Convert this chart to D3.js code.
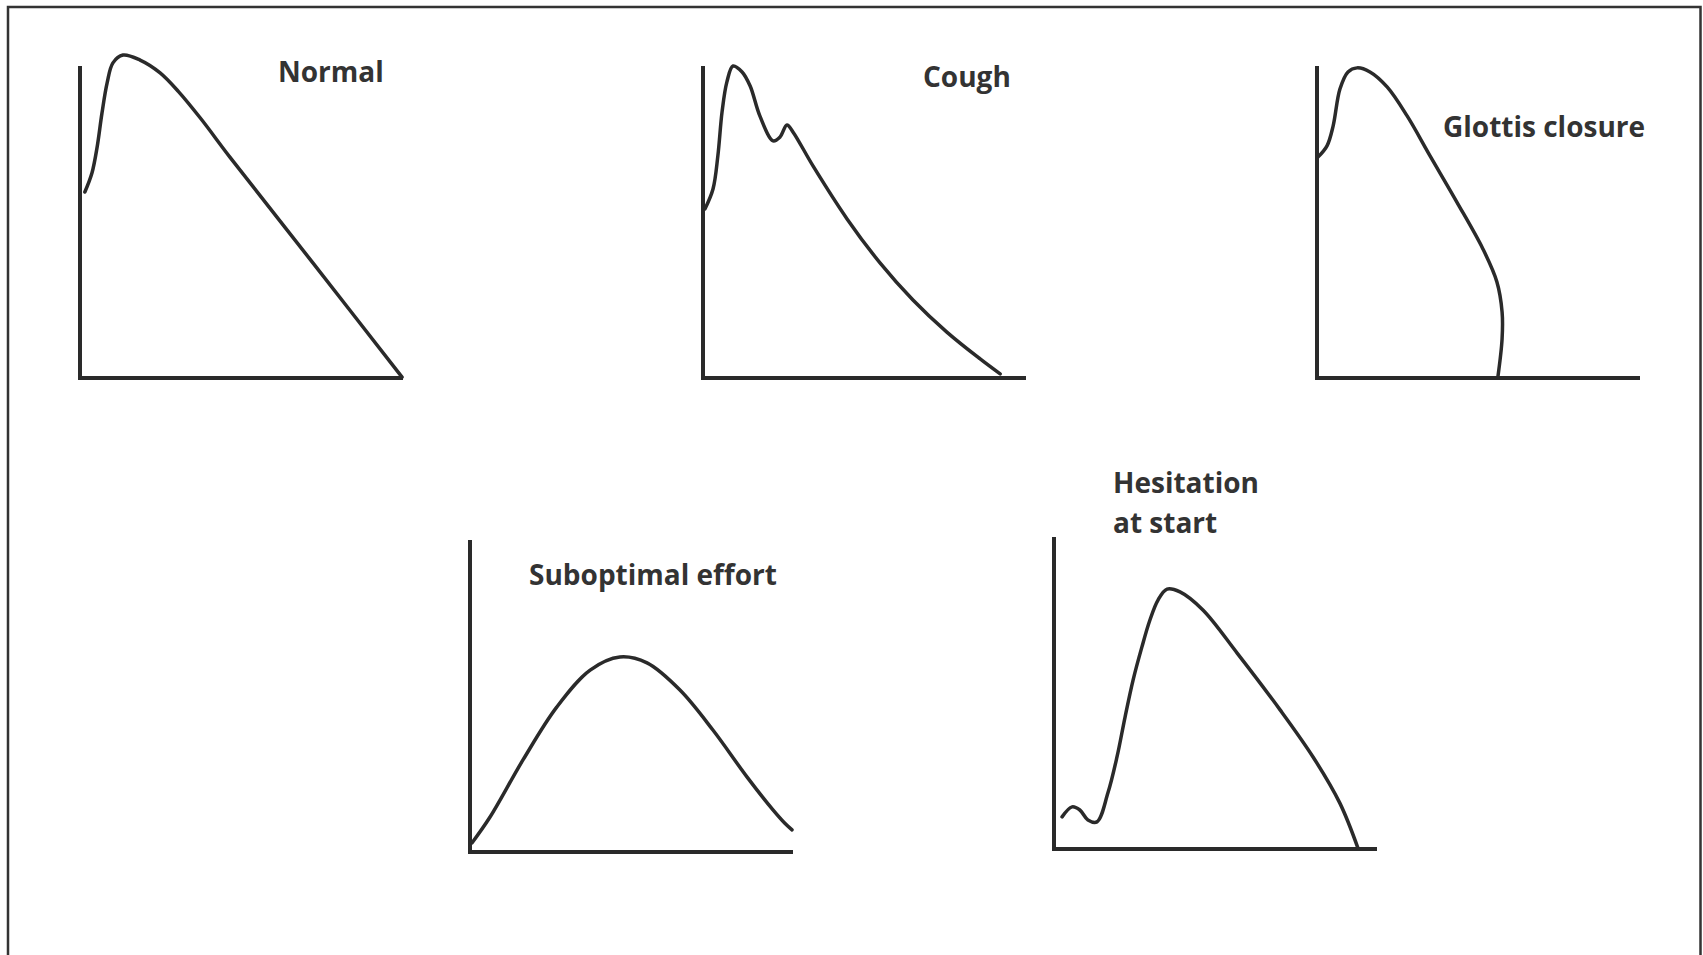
<!DOCTYPE html>
<html>
<head>
<meta charset="utf-8">
<script src="https://cdn.jsdelivr.net/npm/d3@7"></script>
<style>
  html, body { margin: 0; padding: 0; background: #fff; }
  svg { display: block; }
  .label { font-family: "Open Sans", sans-serif; font-weight: 700; fill: #333; }
</style>
</head>
<body>
<svg id="chart" width="1703" height="955"></svg>
<script>
// ---- Data (volume on x, flow on y, both 0-100 relative to the axis extents) ----
const panelNames = ["Normal", "Cough", "Glottis closure", "Suboptimal effort", "Hesitation at start"];

const normalX = [1.5, 3.7, 5.3, 6.8, 8.4, 10.2, 13.3, 18.6, 24.8, 30.5, 37.5, 46.4, 72.1, 99.7];
const normalY = [59.6, 65.7, 74.0, 84.9, 94.6, 101.0, 103.5, 101.9, 97.8, 91.8, 83.0, 70.8, 36.9, 0.3];

const coughX = [0.6, 3.1, 4.6, 5.9, 7.4, 9.3, 12.1, 14.6, 17.6, 21.7, 23.8, 26.0, 27.9, 34.1, 44.6, 54.8, 65.0, 75.5, 85.8, 92.0];
const coughY = [54.2, 60.6, 71.2, 85.3, 94.9, 100.0, 98.1, 93.6, 84.0, 76.0, 77.2, 81.1, 78.8, 67.9, 51.0, 36.9, 25.0, 14.7, 6.1, 1.3];

const glottisX = [0.3, 3.1, 5.0, 7.1, 9.6, 12.4, 16.4, 21.7, 27.9, 35.0, 43.3, 51.4, 55.7, 57.3, 57.3, 56.0];
const glottisY = [70.8, 74.4, 80.8, 92.6, 98.1, 99.4, 98.1, 93.3, 84.0, 71.2, 56.4, 41.3, 30.8, 21.2, 12.5, 0.3];

const suboptimalX = [0.6, 6.2, 16.4, 26.9, 37.2, 46.4, 54.8, 65.0, 75.2, 85.8, 93.8, 97.4, 99.7];
const suboptimalY = [2.9, 11.2, 29.5, 46.5, 58.3, 62.5, 60.6, 51.9, 39.1, 24.0, 13.5, 9.3, 7.1];

const hesitationX = [2.5, 5.6, 8.0, 10.5, 13.3, 16.7, 19.5, 22.0, 24.5, 27.2, 29.7, 32.2, 35.0, 39.0, 46.1, 56.7, 70.0, 80.2, 88.5, 94.1];
const hesitationY = [10.3, 13.5, 12.5, 9.3, 8.7, 18.0, 29.5, 42.3, 54.2, 64.7, 73.4, 79.8, 83.3, 82.4, 76.6, 62.8, 44.6, 29.5, 14.7, 0.3];

const labelLines = [["Normal"], ["Cough"], ["Glottis closure"], ["Suboptimal effort"], ["Hesitation", "at start"]];

// ---- Layout ----
const W = 1703, H = 955;
const PW = 323, PH = 312;
const panels = [
  { x: 80,   y: 66,  xs: normalX,     ys: normalY,     label: labelLines[0], lx: 198, ly: 16 },
  { x: 703,  y: 66,  xs: coughX,      ys: coughY,      label: labelLines[1], lx: 220, ly: 21 },
  { x: 1317, y: 66,  xs: glottisX,    ys: glottisY,    label: labelLines[2], lx: 126, ly: 71 },
  { x: 470,  y: 540, xs: suboptimalX, ys: suboptimalY, label: labelLines[3], lx: 59,  ly: 45 },
  { x: 1054, y: 537, xs: hesitationX, ys: hesitationY, label: labelLines[4], lx: 59,  ly: -44 }
];

const svg = d3.select("#chart");
svg.append("rect").attr("width", W).attr("height", H).attr("fill", "#fff");

// outer frame (left, top, right edges)
svg.append("path")
  .attr("d", d3.line()([[8, H + 5], [8, 7], [1700.5, 7], [1700.5, H + 5]]))
  .attr("fill", "none").attr("stroke", "#333").attr("stroke-width", 2.5);

const x = d3.scaleLinear().domain([0, 100]).range([0, PW]);
const y = d3.scaleLinear().domain([0, 100]).range([PH, 0]);

const curve = d3.line()
  .x(d => x(d[0]))
  .y(d => y(d[1]))
  .curve(d3.curveCatmullRom.alpha(0.5));

const axisLine = d3.line().x(d => x(d[0])).y(d => y(d[1]));

panels.forEach(p => {
  const g = svg.append("g").attr("transform", `translate(${p.x},${p.y})`);
  // axes
  g.append("path")
    .attr("d", axisLine([[0, 100], [0, 0], [100, 0]]))
    .attr("fill", "none").attr("stroke", "#2a2a2a")
    .attr("stroke-width", 4).attr("stroke-linejoin", "miter");
  // flow-volume curve
  const pts = p.xs.map((v, i) => [v, p.ys[i]]);
  g.append("path")
    .attr("d", curve(pts))
    .attr("fill", "none").attr("stroke", "#2a2a2a")
    .attr("stroke-width", 3.5).attr("stroke-linecap", "round").attr("stroke-linejoin", "round");
  // label
  const t = g.append("text").attr("class", "label")
    .attr("x", p.lx).attr("y", p.ly).attr("font-size", 28);
  p.label.forEach((s, i) => {
    t.append("tspan").attr("x", p.lx).attr("dy", i === 0 ? 0 : 40).text(s);
  });
});
</script>
</body>
</html>
